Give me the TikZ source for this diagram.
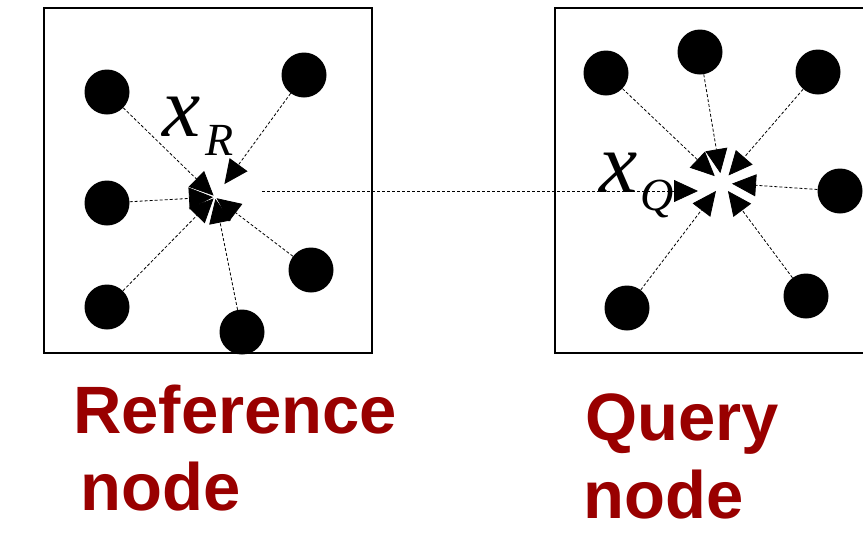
\documentclass[tikz,border=0pt]{standalone}
\usepackage{fontspec}
\setmainfont{Liberation Serif}
\newfontfamily\labelfont{Liberation Sans}
\usetikzlibrary{arrows.meta}
\definecolor{darkred}{RGB}{153,0,0}
\tikzset{
  particle/.style={circle,fill=black,minimum size=45pt,inner sep=0pt},
  boxline/.style={line width=2.2pt},
  conn/.style={line width=0.8pt,dash pattern=on 3pt off 2pt,-{Triangle[length=24pt,width=22pt]}},
  mathx/.style={inner sep=0pt,anchor=base west,font=\fontsize{86}{86}\selectfont\itshape},
  mathsub/.style={inner sep=0pt,anchor=base west,font=\fontsize{46}{46}\selectfont\itshape},
  redlabel/.style={inner sep=0pt,anchor=base west,text=darkred,font=\labelfont\bfseries\fontsize{67}{77}\selectfont}
}
\begin{document}
\begin{tikzpicture}[x=1pt,y=-1pt]
\useasboundingbox (0,0) rectangle (863,536);
% boxes
\draw[boxline] (44,8) rectangle (372,353);
\draw[boxline] (863,8) -- (555,8) -- (555,353) -- (863,353);
% reference particles
\coordinate (rc) at (215,197);
\node[particle] (r1) at (107,92) {};
\node[particle] (r2) at (107,203) {};
\node[particle] (r3) at (107,307) {};
\node[particle] (r4) at (304,75) {};
\node[particle] (r5) at (311,270) {};
\node[particle] (r6) at (242,332) {};
\draw[conn,shorten >=2pt] (r1) -- (rc);
\draw[conn,shorten >=2pt] (r2) -- (rc);
\draw[conn,shorten >=2pt] (r3) -- (rc);
\draw[conn,shorten >=16pt] (r4) -- (rc);
\draw[conn,shorten >=2pt] (r5) -- (rc);
\draw[conn,shorten >=2pt] (r6) -- (rc);
% query particles
\coordinate (qc) at (722,183);
\node[particle] (q1) at (606,73) {};
\node[particle] (q2) at (700,52) {};
\node[particle] (q3) at (818,72) {};
\node[particle] (q4) at (840,191) {};
\node[particle] (q5) at (806,296) {};
\node[particle] (q6) at (627,308) {};
\foreach \q in {q1,q2,q3,q4,q5,q6}{
  \draw[conn,shorten >=10pt] (\q) -- (qc);
}
% translation arrow
\coordinate (hs) at (262,191);
\coordinate (he) at (698,191);
\draw[conn] (hs) -- (he);
% labels
\node[mathx] (xr) at (162,136) {x};
\node[mathsub] (xrs) at (205,155) {R};
\node[mathx] (xq) at (599,192) {x};
\node[mathsub] (xqs) at (640,210) {Q};
\node[redlabel] (rl1) at (73,433) {Reference};
\node[redlabel] (rl2) at (80,510) {node};
\node[redlabel] (ql1) at (585,440) {Query};
\node[redlabel] (ql2) at (583,518) {node};
\end{tikzpicture}
\end{document}
